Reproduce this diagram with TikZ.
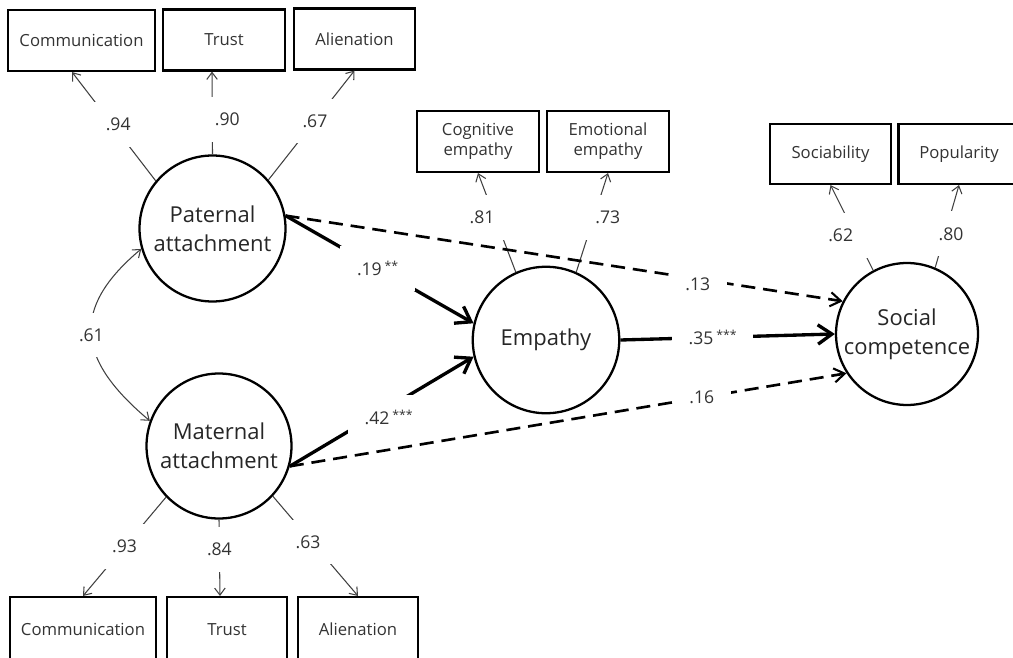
\documentclass[tikz,border=0pt]{standalone}
\usepackage{fontspec}
\setmainfont{Open Sans}
\usetikzlibrary{arrows.meta}
\newcommand{\stars}[1]{\,\raisebox{2.5pt}{\fontsize{7}{8}\selectfont #1}}

\begin{document}
\begin{tikzpicture}[x=0.02cm, y=-0.02cm,
    >={Straight Barb[length=4pt,width=6pt]},
    obs/.style={draw, line width=1.2pt, minimum height=1.22cm, inner sep=0pt, align=center, text=black!80, font=\fontsize{9.5}{11.5}\selectfont},
    lat/.style={draw, circle, line width=1.3pt, inner sep=0pt, align=center, text=black!85, font=\fontsize{12.5}{16.5}\selectfont},
    loading/.style={draw=black!75, line width=0.6pt, ->},
    sigpath/.style={line width=1.9pt, -{Straight Barb[length=8pt,width=11pt]}},
    nspath/.style={line width=1.5pt, dash pattern=on 8pt off 4.5pt, -{Straight Barb[length=6pt,width=8pt,line width=1.2pt]}},
    lbl/.style={fill=white, inner xsep=9.5pt, inner ysep=9pt, text=black!80, font=\fontsize{10}{12}\selectfont}]
      \useasboundingbox (0,0) rectangle (1013,658);

      % LATENT VARIABLES
      \node[lat, minimum size=2.92cm] (pat) at (212.5,228.5) {Paternal\\attachment};
      \node[lat, minimum size=2.9cm] (mat) at (219,446) {Maternal\\attachment};
      \node[lat, minimum size=2.93cm] (emp) at (546,340) {Empathy};
      \node[lat, minimum size=2.84cm] (soc) at (907,334) {Social\\competence};

      % INDICATORS
      \node[obs, minimum width=2.94cm] (comP) at (81.5,40.5) {Communication};
      \node[obs, minimum width=2.44cm] (truP) at (224,40) {Trust};
      \node[obs, minimum width=2.42cm] (aliP) at (354.5,39) {Alienation};
      \node[obs, minimum width=2.92cm, minimum height=1.3cm] (comM) at (83,629.5) {Communication};
      \node[obs, minimum width=2.4cm, minimum height=1.3cm] (truM) at (227,629.5) {Trust};
      \node[obs, minimum width=2.4cm, minimum height=1.3cm] (aliM) at (358,629.5) {Alienation};
      \node[obs, minimum width=2.44cm] (cog) at (478,141.5) {Cognitive\\empathy};
      \node[obs, minimum width=2.44cm] (emo) at (608,141.5) {Emotional\\empathy};
      \node[obs, minimum width=2.42cm, minimum height=1.2cm] (sob) at (830.5,154) {Sociability};
      \node[obs, minimum width=2.42cm, minimum height=1.2cm] (pop) at (959,154) {Popularity};

      % LOADINGS
      \draw[loading] (pat.140.5) -- node[lbl, pos=.52, xshift=0.12cm] {.94} ([xshift=-0.19cm]comP.south);
      \draw[loading] (pat.90) -- node[lbl, pos=.42, xshift=0.3cm] {.90} ([xshift=-0.24cm]truP.south);
      \draw[loading] (pat.41) -- node[lbl, pos=.54] {.67} (aliP.south);
      \draw[loading] (mat.224) -- node[lbl, pos=.5] {.93} (comM.north);
      \draw[loading] (mat.270) -- node[lbl, pos=.39] {.84} ([xshift=-0.14cm]truM.north);
      \draw[loading] (mat.317) -- node[lbl, pos=.46, xshift=-0.08cm] {.63} (aliM.north);
      \draw[loading] (emp.114) -- node[lbl, pos=.55, xshift=-0.26cm] {.81} (cog.south);
      \draw[loading] (emp.66) -- node[lbl, pos=.55, xshift=0.28cm] {.73} (emo.south);
      \draw[loading] (soc.118) -- node[lbl, pos=.41, xshift=-0.3cm] {.62} (sob.south);
      \draw[loading] (soc.67) -- node[lbl, pos=.41, xshift=0.12cm] {.80} (pop.south);

      % COVARIANCE
      \draw[loading, <->] (pat.196.5) to[out=220, in=140, looseness=1.4] node[lbl] {.61} (mat.160);

      % PATHS
      \draw[sigpath] (pat.10.5) -- node[lbl, pos=.49] {.19\stars{**}} (emp.167);
      \draw[sigpath] (mat.344) -- node[lbl, pos=.5, xshift=0.14cm, yshift=-0.12cm] {.42\stars{***}} (emp.193);
      \draw[sigpath] (emp.0) -- node[lbl, pos=.43] {.35\stars{***}} (soc.180);
      \draw[nspath] (pat.10.5) -- node[lbl, pos=.74, yshift=-0.1cm] {.13} (soc.153);
      \draw[nspath] (mat.344) -- node[lbl, pos=.74] {.16} (soc.213);
    \end{tikzpicture}
\end{document}
